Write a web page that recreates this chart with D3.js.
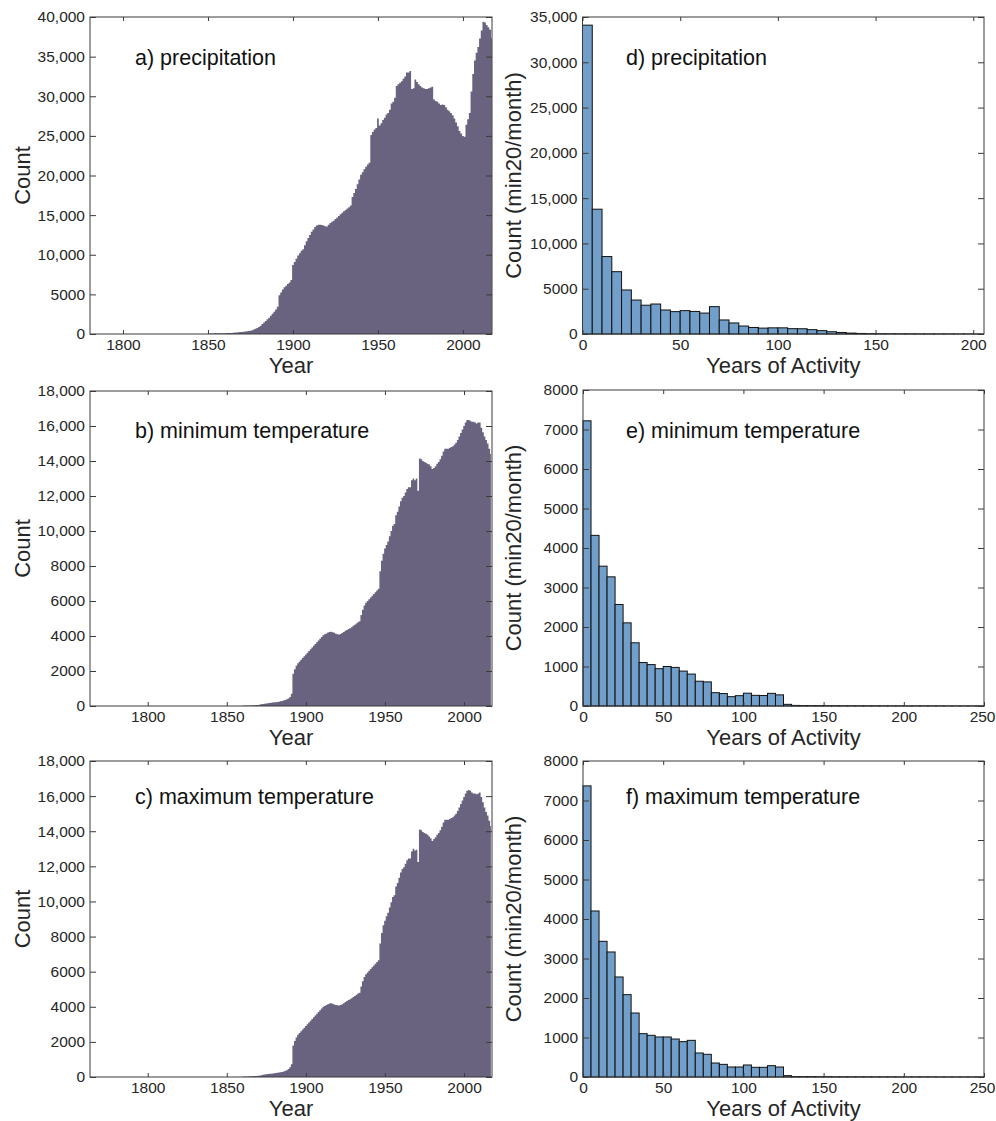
<!DOCTYPE html>
<html>
<head>
<meta charset="utf-8">
<script src="https://cdn.jsdelivr.net/npm/d3@7"></script>
<style>
body { margin: 0; background: #fff; }
text { font-family: "Liberation Sans", Arial, sans-serif; fill: #262626; }
</style>
</head>
<body>
<div id="main"></div>
<script>

// yearly station counts (value per year, starting at *Start)
var precipStart = 1850;
var precipCounts = [
	60, 65, 70, 75, 80, 85, 90, 95, 100, 105,
	110, 115, 120, 130, 140, 160, 180, 200, 220, 240,
	260, 290, 320, 350, 380, 420, 480, 560, 650, 760,
	880, 1050, 1250, 1450, 1650, 1850, 2050, 2300, 2550, 2800,
	3100, 3450, 4900, 5250, 5600, 5900, 6100, 6300, 6500, 6800,
	8700, 9100, 9500, 9900, 10200, 10500, 10700, 11200, 11700, 12100,
	12500, 12900, 13200, 13500, 13700, 13800, 13800, 13750, 13700, 13600,
	13550, 13800, 14000, 14150, 14300, 14500, 14700, 14900, 15100, 15300,
	15500, 15650, 15850, 16000, 16200, 17300, 17800, 18300, 18900, 19500,
	20100, 20400, 20800, 21100, 21400, 21600, 25100, 25500, 25800, 26000,
	27200, 26300, 26600, 27000, 27300, 27700, 27900, 28300, 29100, 29300,
	29800, 31300, 31500, 31700, 31900, 32200, 32500, 33000, 33000, 33200,
	30900, 31000, 32100, 31800, 31500, 31300, 31100, 31000, 30900, 30900,
	31000, 31100, 31200, 29600, 29400, 29300, 29100, 28900, 28950, 28900,
	28600, 28300, 28100, 27900, 27600, 27200, 26700, 26200, 25600, 25300,
	25000, 24900, 26400, 27100, 27900, 30600, 32800, 34500, 35500, 36200,
	37300, 38300, 39400, 39300, 39000, 38700, 38400, 37300
];

var tminStart = 1860;
var tminCounts = [
	20, 22, 25, 28, 30, 35, 40, 45, 50, 55,
	60, 80, 100, 120, 135, 150, 160, 175, 185, 195,
	210, 220, 235, 250, 265, 285, 310, 340, 380, 430,
	520, 700, 1850, 2100, 2300, 2450, 2550, 2650, 2750, 2850,
	2950, 3050, 3150, 3250, 3350, 3450, 3550, 3650, 3750, 3850,
	3950, 4050, 4100, 4150, 4200, 4230, 4250, 4220, 4180, 4130,
	4100, 4090, 4120, 4170, 4230, 4300, 4350, 4400, 4450, 4500,
	4580, 4650, 4720, 4780, 4850, 5200, 5500, 5750, 5900, 6000,
	6100, 6200, 6300, 6400, 6500, 6600, 6700, 7700, 8300, 8700,
	9000, 9200, 9400, 9700, 10000, 10300, 10400, 10900, 11100, 11400,
	11700, 11900, 12000, 12200, 12400, 12500, 12500, 12900, 13000, 12900,
	13000, 12300, 14150, 14100, 14000, 13950, 13900, 13850, 13800, 13700,
	13550, 13600, 13700, 13850, 13950, 14100, 14300, 14550, 14700, 14700,
	14700, 14750, 14800, 14850, 14950, 15050, 15200, 15400, 15600, 15800,
	16000, 16200, 16350, 16350, 16300, 16250, 16250, 16200, 16150, 16200,
	16200, 15900, 15650, 15400, 15200, 15000, 14700, 14400
];

var tmaxStart = 1860;
var tmaxCounts = [
	25, 28, 30, 33, 36, 40, 45, 50, 56, 62,
	70, 85, 105, 125, 140, 155, 165, 180, 190, 200,
	215, 225, 240, 255, 270, 290, 315, 350, 390, 450,
	560, 720, 1800, 2050, 2250, 2400, 2500, 2600, 2700, 2800,
	2900, 3000, 3100, 3200, 3300, 3400, 3500, 3600, 3700, 3800,
	3900, 4000, 4050, 4100, 4150, 4180, 4200, 4170, 4130, 4100,
	4080, 4070, 4100, 4150, 4200, 4270, 4330, 4380, 4430, 4480,
	4560, 4620, 4690, 4750, 4800, 5150, 5450, 5700, 5850, 5950,
	6050, 6150, 6250, 6350, 6450, 6550, 6650, 7600, 8200, 8650,
	8900, 9150, 9350, 9650, 9950, 10250, 10350, 10850, 11050, 11350,
	11650, 11850, 11950, 12150, 12350, 12450, 12450, 12850, 13000, 12900,
	12950, 12250, 14100, 14050, 13950, 13900, 13850, 13800, 13700, 13600,
	13450, 13550, 13650, 13800, 13900, 14050, 14250, 14500, 14650, 14650,
	14650, 14700, 14750, 14800, 14900, 15000, 15150, 15350, 15550, 15750,
	15950, 16150, 16300, 16350, 16300, 16200, 16150, 16150, 16100, 16150,
	16200, 15950, 15650, 15350, 15100, 14900, 14600, 14300
];

// years-of-activity histograms, bins of 5 years starting at 0
var binWidth = 5;
var precipActivity = [
	34100, 13780, 8550, 6880, 4860, 3750, 3180, 3310, 2650, 2470,
	2580, 2490, 2310, 3020, 1550, 1220, 880, 720, 650, 680,
	680, 590, 580, 480, 370, 250, 170, 100, 60, 40,
	30, 25, 20, 20, 15, 15, 12, 10, 10, 8, 5
];
var tminActivity = [
	7220, 4320, 3540, 3270, 2570, 2105, 1600, 1100, 1048, 945,
	1000, 977, 884, 808, 627, 610, 337, 315, 236, 261,
	324, 270, 265, 320, 282, 42, 15, 12, 10, 10,
	8, 8, 6, 6, 5, 5, 5, 4, 4, 4,
	3, 3, 3, 3, 3, 2, 2, 2, 2, 2
];
var tmaxActivity = [
	7370, 4203, 3435, 3165, 2532, 2085, 1620, 1097, 1055, 1013,
	1013, 962, 895, 928, 608, 574, 354, 320, 253, 253,
	304, 245, 245, 287, 253, 34, 12, 10, 10, 8,
	8, 6, 6, 5, 5, 5, 4, 4, 4, 3,
	3, 3, 3, 3, 2, 2, 2, 2, 2, 2
];

// tick labels
var yearTicks = [1800, 1850, 1900, 1950, 2000];
var activityTicksD = [0, 50, 100, 150, 200];
var activityTicksEF = [0, 50, 100, 150, 200, 250];
var countTicksA = [0, 5000, 10000, 15000, 20000, 25000, 30000, 35000, 40000];
var countTicksBC = [0, 2000, 4000, 6000, 8000, 10000, 12000, 14000, 16000, 18000];
var countTicksD = [0, 5000, 10000, 15000, 20000, 25000, 30000, 35000];
var countTicksEF = [0, 1000, 2000, 3000, 4000, 5000, 6000, 7000, 8000];


var w = 996,
	h = 1121;

var areaColor = "#6a6380",
	barColor = "#729fc9",
	axisColor = "#3a3a3a";

// numbers below 10,000 carry no separator (as in the figure)
function fmt(v) {
	return v >= 10000 ? d3.format(",")(v) : d3.format("d")(v);
}

var svg = d3.select("#main")
	.append("svg")
	.attr("width", w)
	.attr("height", h)
	.style("display", "block");

svg.append("rect")
	.attr("width", w)
	.attr("height", h)
	.attr("fill", "#fff");

var clipCount = 0;

// frame, ticks on all four sides, labels
function drawFrame(g, x, y, xTicks, yTicks, box, xLabel, yLabel, title) {
	var pw = box.x1 - box.x0,
		ph = box.y1 - box.y0;

	g.append("g")
		.attr("transform", "translate(0," + ph + ")")
		.call(d3.axisBottom(x).tickValues(xTicks).tickFormat(d3.format("d"))
			.tickSizeInner(-4).tickSizeOuter(0).tickPadding(5));
	g.append("g")
		.call(d3.axisTop(x).tickValues(xTicks).tickFormat("")
			.tickSizeInner(-4).tickSizeOuter(0));
	g.append("g")
		.call(d3.axisLeft(y).tickValues(yTicks).tickFormat(fmt)
			.tickSizeInner(-6).tickSizeOuter(0).tickPadding(5));
	g.append("g")
		.attr("transform", "translate(" + pw + ",0)")
		.call(d3.axisRight(y).tickValues(yTicks).tickFormat("")
			.tickSizeInner(-6).tickSizeOuter(0));

	g.selectAll(".domain").remove();
	g.selectAll(".tick line").attr("stroke", axisColor);
	g.selectAll(".tick text")
		.attr("fill", "#262626")
		.style("font-size", "15.5px")
		.style("font-family", "'Liberation Sans', Arial, sans-serif");

	// last x label sits at the page edge in the figure; keep it inside
	g.selectAll(".tick text")
		.filter(function(d) { return d === 250; })
		.attr("text-anchor", "end")
		.attr("x", 11);

	g.append("rect")
		.attr("width", pw)
		.attr("height", ph)
		.attr("fill", "none")
		.attr("stroke", axisColor)
		.attr("stroke-width", 1);

	g.append("text")
		.attr("x", pw / 2)
		.attr("y", ph + 39)
		.attr("text-anchor", "middle")
		.style("font-size", "22px")
		.text(xLabel);

	g.append("text")
		.attr("transform", "translate(" + box.yLabelX + "," + (ph / 2) + ") rotate(-90)")
		.attr("text-anchor", "middle")
		.style("font-size", "22px")
		.text(yLabel);

	g.append("text")
		.attr("x", box.titleX)
		.attr("y", box.titleY)
		.style("font-size", "21.5px")
		.style("fill", "#111")
		.text(title);
}

function drawYearly(box, start, counts, domain, yMax, yTicks, title) {
	var g = svg.append("g")
		.attr("transform", "translate(" + box.x0 + "," + box.y0 + ")");

	var x = d3.scaleLinear().domain(domain).range([0, box.x1 - box.x0]);
	var y = d3.scaleLinear().domain([0, yMax]).range([box.y1 - box.y0, 0]);

	var id = "clip" + (clipCount++);
	g.append("clipPath").attr("id", id)
		.append("rect")
		.attr("width", box.x1 - box.x0)
		.attr("height", box.y1 - box.y0);

	var data = counts.map(function(v, i) { return { year: start + i, v: v }; });

	var area = d3.area()
		.curve(d3.curveStep)
		.x(function(d) { return x(d.year); })
		.y0(y(0))
		.y1(function(d) { return y(d.v); });

	g.append("path")
		.datum(data)
		.attr("clip-path", "url(#" + id + ")")
		.attr("d", area)
		.attr("fill", areaColor);

	drawFrame(g, x, y, yearTicks, yTicks, box, "Year", "Count", title);
}

function drawHist(box, counts, xMax, xTicks, yMax, yTicks, title) {
	var g = svg.append("g")
		.attr("transform", "translate(" + box.x0 + "," + box.y0 + ")");

	var x = d3.scaleLinear().domain([0, xMax]).range([0, box.x1 - box.x0]);
	var y = d3.scaleLinear().domain([0, yMax]).range([box.y1 - box.y0, 0]);

	g.selectAll("rect.bar")
		.data(counts)
		.enter()
		.append("rect")
		.attr("class", "bar")
		.attr("x", function(d, i) { return x(i * binWidth); })
		.attr("width", x(binWidth) - x(0))
		.attr("y", function(d) { return y(d); })
		.attr("height", function(d) { return y(0) - y(d); })
		.attr("fill", barColor)
		.attr("stroke", "#111")
		.attr("stroke-width", 1);

	drawFrame(g, x, y, xTicks, yTicks, box, "Years of Activity", "Count (min20/month)", title);
}

// panel boxes (pixel layout)
var boxA = { x0: 90, x1: 492, y0: 17, y1: 334, yLabelX: -60, titleX: 45, titleY: 48 };
var boxB = { x0: 90, x1: 492, y0: 391, y1: 706, yLabelX: -60, titleX: 45, titleY: 47 };
var boxC = { x0: 90, x1: 492, y0: 761, y1: 1077, yLabelX: -60, titleX: 45, titleY: 43 };
var boxD = { x0: 582.5, x1: 984, y0: 17, y1: 334, yLabelX: -62, titleX: 43.5, titleY: 48 };
var boxE = { x0: 583, x1: 984, y0: 390, y1: 706, yLabelX: -62, titleX: 43, titleY: 48 };
var boxF = { x0: 583, x1: 984, y0: 761, y1: 1077, yLabelX: -62, titleX: 43, titleY: 43 };

drawYearly(boxA, precipStart, precipCounts, [1780.6, 2017.1], 40000, countTicksA, "a) precipitation");
drawYearly(boxB, tminStart, tminCounts, [1763.5, 2017.7], 18000, countTicksBC, "b) minimum temperature");
drawYearly(boxC, tmaxStart, tmaxCounts, [1763.5, 2017.7], 18000, countTicksBC, "c) maximum temperature");

drawHist(boxD, precipActivity, 205.5, activityTicksD, 35000, countTicksD, "d) precipitation");
drawHist(boxE, tminActivity, 250, activityTicksEF, 8000, countTicksEF, "e) minimum temperature");
drawHist(boxF, tmaxActivity, 250, activityTicksEF, 8000, countTicksEF, "f) maximum temperature");

</script>
</body>
</html>
